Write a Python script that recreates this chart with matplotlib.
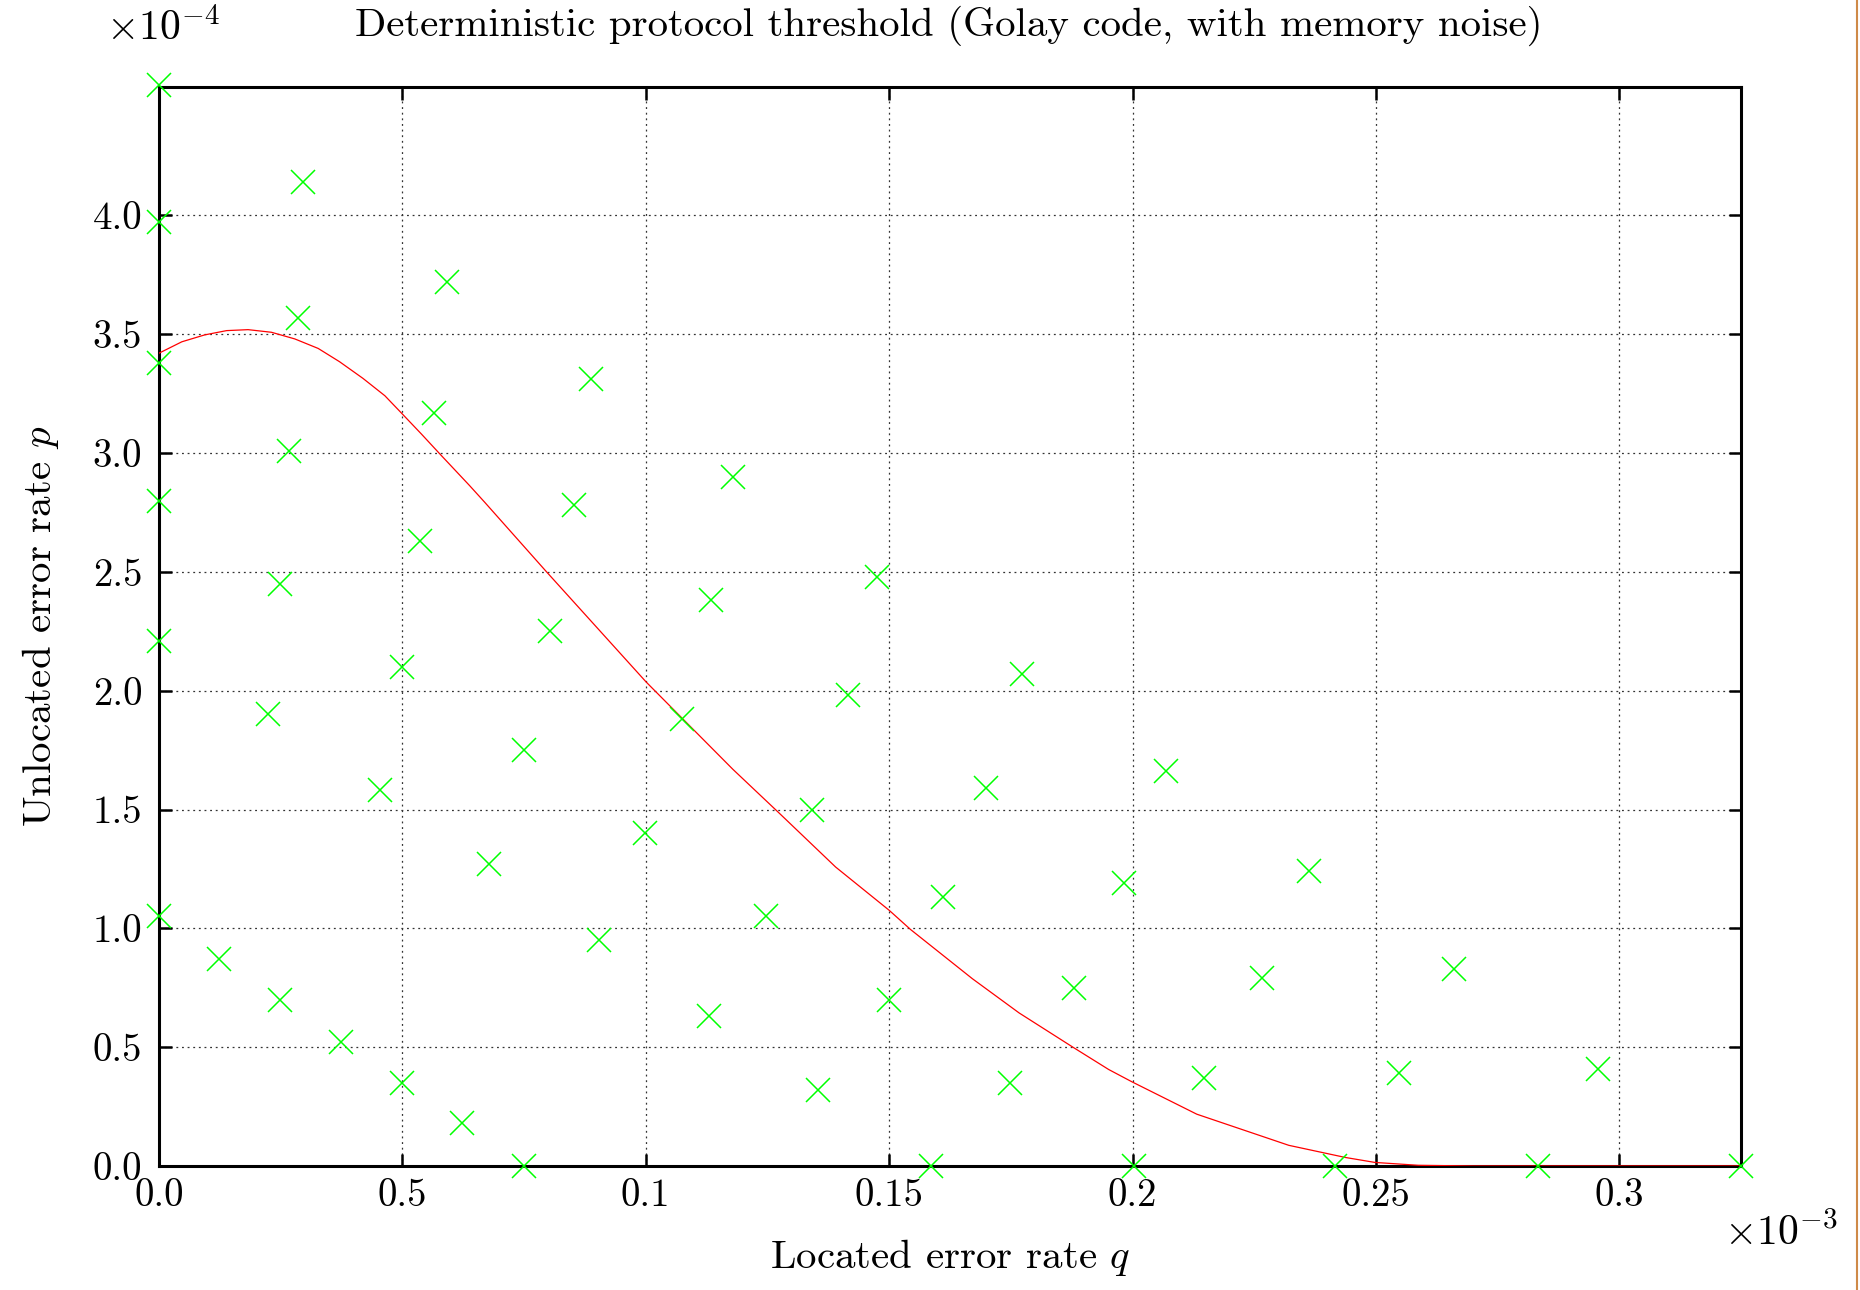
import matplotlib
matplotlib.use("Agg")
import matplotlib.pyplot as plt
from matplotlib.lines import Line2D

plt.rcParams['font.family'] = 'serif'
plt.rcParams['font.serif'] = ['cmr10', 'DejaVu Serif']
plt.rcParams['mathtext.fontset'] = 'cm'
plt.rcParams['axes.formatter.use_mathtext'] = True

# threshold curve (q in 1e-3, p in 1e-4)
curve_q = [0, 0.0047, 0.0094, 0.0139, 0.0183, 0.0231, 0.0279, 0.0327, 0.0371,
           0.0419, 0.0464, 0.05, 0.0539, 0.0577, 0.0638, 0.0669, 0.0797, 0.1001,
           0.1179, 0.1274, 0.139, 0.15, 0.1544, 0.1671, 0.1767, 0.1879, 0.1951,
           0.1999, 0.2132, 0.2321, 0.2437, 0.2498, 0.2587, 0.27, 0.325]
curve_p = [3.42, 3.468, 3.497, 3.515, 3.519, 3.508, 3.48, 3.44, 3.384,
           3.314, 3.241, 3.164, 3.08, 2.996, 2.863, 2.793, 2.498, 2.036,
           1.669, 1.485, 1.258, 1.076, 0.995, 0.788, 0.644, 0.498, 0.406,
           0.354, 0.218, 0.087, 0.036, 0.015, 0.003, 0.0, 0.0]

# sampled points
pts_q = [0, 0, 0.0295, 0.0592, 0.0285, 0, 0.0887, 0.0565, 0.0268, 0.118,
         0, 0.0852, 0.0536, 0.1476, 0.0248, 0.1133, 0.0804, 0, 0.0499, 0.1773,
         0.1415, 0.0224, 0.1074, 0.075, 0.2068, 0.0453, 0.1698, 0.1342, 0.0999,
         0.0677, 0.2362, 0.1982, 0.161, 0.1247, 0, 0.0904, 0.0124, 0.266,
         0.2265, 0.188, 0.150, 0.0248, 0.113, 0.0373, 0.2957, 0.2548, 0.2146,
         0.1749, 0.0499, 0.1354, 0.0623, 0.075, 0.1585, 0.2002, 0.2416, 0.2832,
         0.325]
pts_p = [4.55, 3.97, 4.14, 3.72, 3.57, 3.38, 3.31, 3.17, 3.01, 2.90,
         2.80, 2.78, 2.63, 2.48, 2.45, 2.38, 2.25, 2.21, 2.10, 2.07,
         1.98, 1.90, 1.88, 1.75, 1.66, 1.58, 1.59, 1.50, 1.40,
         1.27, 1.24, 1.19, 1.13, 1.05, 1.05, 0.95, 0.87, 0.83,
         0.79, 0.75, 0.70, 0.70, 0.63, 0.52, 0.41, 0.39, 0.37,
         0.35, 0.35, 0.32, 0.18, 0, 0, 0, 0, 0,
         0]

xticks = [0, 0.05, 0.1, 0.15, 0.2, 0.25, 0.3]
xticklabels = ['0.0', '0.5', '0.1', '0.15', '0.2', '0.25', '0.3']
yticks = [0, 0.5, 1.0, 1.5, 2.0, 2.5, 3.0, 3.5, 4.0]
yticklabels = ['0.0', '0.5', '1.0', '1.5', '2.0', '2.5', '3.0', '3.5', '4.0']

W, H = 1860, 1290
fig = plt.figure(figsize=(W / 100, H / 100), dpi=100)
ax = fig.add_axes([159/W, 1 - 1166/H, (1741-159)/W, (1166-87)/H])

ax.plot(curve_q, curve_p, color='#ff0000', lw=0.9, zorder=3)
ax.plot(pts_q, pts_p, linestyle='none', marker='x', color='#00ff00',
        markersize=17, markeredgewidth=1.1, clip_on=False, zorder=4)

ax.set_xlim(0, 0.325)
ax.set_ylim(0, 4.54)
ax.set_xticks(xticks)
ax.set_xticklabels(xticklabels)
ax.set_yticks(yticks)
ax.set_yticklabels(yticklabels)

ax.grid(True, linestyle=(0, (1.5, 3)), color='#333333', linewidth=0.9)
ax.tick_params(direction='in', length=9, width=1.8, top=True, right=True,
               labelsize=28)
ax.tick_params(axis='x', pad=9)
ax.tick_params(axis='y', pad=12)
for s in ax.spines.values():
    s.set_linewidth(2.2)

fig.text(949/W, 1 - 26/H,
         'Deterministic protocol threshold (Golay code, with memory noise)',
         fontsize=29.5, ha='center', va='center')
fig.text(950/W, 1 - 1257/H, 'Located error rate $q$', fontsize=29.5,
         ha='center', va='center')
fig.text(41/W, 1 - 626/H, 'Unlocated error rate $p$', fontsize=29.5,
         ha='center', va='center', rotation=90)

fig.text(106/W, 1 - 28/H, r'$\times10^{-4}$', fontsize=30, ha='left', va='center')
fig.text(1724/W, 1 - 1233/H, r'$\times10^{-3}$', fontsize=30, ha='left', va='center')

fig.add_artist(Line2D([1857/W, 1857/W], [0, 1], transform=fig.transFigure,
                      color='#cf8a48', lw=1.5))

fig.savefig('out.png', dpi=100)
